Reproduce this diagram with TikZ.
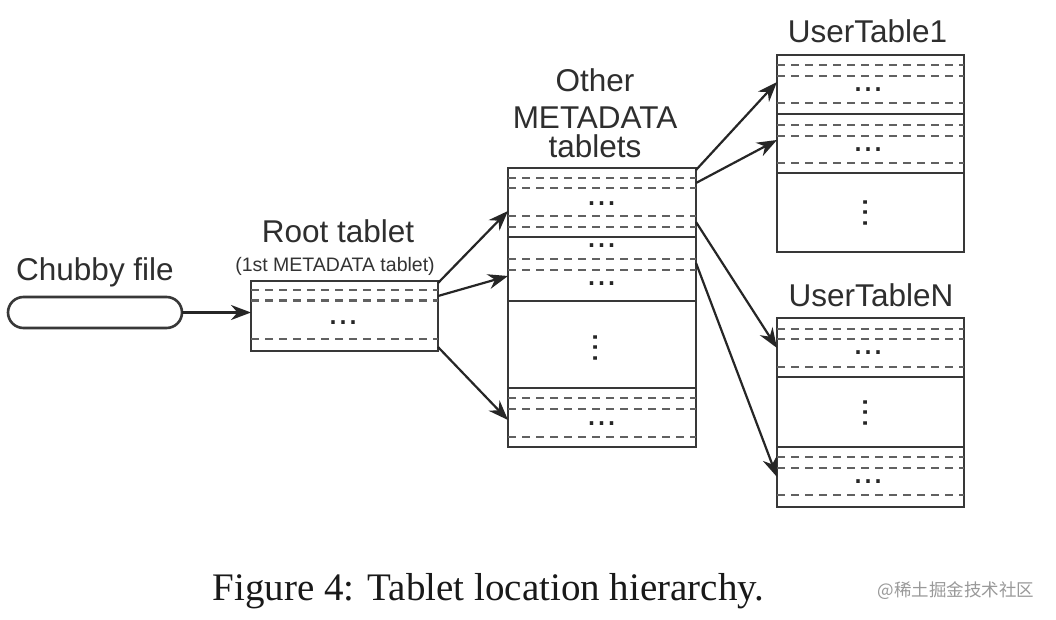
\documentclass[tikz,border=0pt]{standalone}
\usepackage{fontspec}
\setmainfont{Liberation Sans}
\newfontfamily\capserif{Liberation Serif}
\newfontfamily\cjk{Noto Sans CJK SC}
\usetikzlibrary{arrows.meta}
\newcommand\hrow[3]{\draw[#3] (#1.west |- 0,#2) -- (#1.east |- 0,#2);}
\begin{document}
\begin{tikzpicture}[x=1pt,y=-1pt,
  box/.style={draw=black!78, line width=2.6pt, inner sep=0pt, outer sep=0pt},
  dsh/.style={draw=black!62, line width=2.2pt, dash pattern=on 8pt off 6pt},
  sol/.style={draw=black!78, line width=2.6pt},
  arr/.style={draw=black!85, line width=2.2pt, -{Stealth[length=20pt,width=15pt]}},
  lbl/.style={font=\fontsize{31.5}{29}\selectfont, text=black!82, inner sep=0pt},
  sublbl/.style={font=\fontsize{19.5}{22}\selectfont, text=black!80, inner sep=0pt},
  dotsn/.style={font=\fontsize{36}{36}\selectfont, text=black!85, inner sep=0pt}]
\useasboundingbox (0,0) rectangle (1056,620);
\fill[white] (0,0) rectangle (1056,620);

% boxes
\node[box, rounded corners=15.5pt, minimum width=174pt, minimum height=31pt] (chubby) at (95,312.5) {};
\node[box, minimum width=187pt, minimum height=70pt] (root) at (344.5,316) {};
\node[box, minimum width=188pt, minimum height=279pt] (meta) at (602,307.5) {};
\node[box, minimum width=187pt, minimum height=197pt] (ut1) at (870.5,153.5) {};
\node[box, minimum width=187pt, minimum height=189pt] (utn) at (870.5,412.5) {};

% labels
\node[lbl, anchor=base] (chubbylbl) at (95,280) {Chubby file};
\node[lbl, anchor=base] (rootlbl) at (338,242) {Root tablet};
\node[sublbl, anchor=base] (rootsub) at (335,271) {(1st METADATA tablet)};
\node[lbl, anchor=north, align=center] (metalbl) at (595,68) {Other\\[8pt]METADATA\\tablets};
\node[lbl, anchor=base] (ut1lbl) at (867.5,43) {UserTable1};
\node[lbl, anchor=base] (utnlbl) at (871,306) {UserTableN};

% root rows
\hrow{root}{290}{dsh}
\hrow{root}{300.5}{dsh}
\hrow{root}{339}{dsh}
\node[dotsn] (rd) at (343,323) {...};

% meta rows
\hrow{meta}{178}{dsh}
\hrow{meta}{188}{dsh}
\node[dotsn] (md1) at (601.5,204) {...};
\hrow{meta}{216}{dsh}
\hrow{meta}{227}{dsh}
\hrow{meta}{237}{sol}
\node[dotsn] (md2) at (601.5,246) {...};
\hrow{meta}{259}{dsh}
\hrow{meta}{270}{dsh}
\node[dotsn] (md3) at (601.5,284) {...};
\hrow{meta}{301}{sol}
\node[dotsn, rotate=90] (mv) at (596,348) {...};
\hrow{meta}{388}{sol}
\hrow{meta}{398}{dsh}
\hrow{meta}{409}{dsh}
\node[dotsn] (md4) at (601.5,424) {...};
\hrow{meta}{437}{dsh}

% UserTable1 rows
\hrow{ut1}{65}{dsh}
\hrow{ut1}{76}{dsh}
\node[dotsn] (ud1) at (868,90) {...};
\hrow{ut1}{103}{dsh}
\hrow{ut1}{114}{sol}
\hrow{ut1}{125}{dsh}
\hrow{ut1}{136}{dsh}
\node[dotsn] (ud2) at (868,150) {...};
\hrow{ut1}{163}{dsh}
\hrow{ut1}{173}{sol}
\node[dotsn, rotate=90] (uv) at (866,213) {...};

% UserTableN rows
\hrow{utn}{329}{dsh}
\hrow{utn}{339}{dsh}
\node[dotsn] (nd1) at (868,353) {...};
\hrow{utn}{367}{dsh}
\hrow{utn}{377}{sol}
\node[dotsn, rotate=90] (nv) at (866,413) {...};
\hrow{utn}{447}{sol}
\hrow{utn}{457}{dsh}
\hrow{utn}{468}{dsh}
\node[dotsn] (nd2) at (868,482) {...};
\hrow{utn}{495}{dsh}

% arrow end points
\coordinate (r1) at (root.east |- 0,283);
\coordinate (r2) at (root.east |- 0,296);
\coordinate (r3) at (root.east |- 0,347);
\coordinate (m1) at (meta.west |- 0,211);
\coordinate (m2) at (meta.west |- 0,276);
\coordinate (m3) at (meta.west |- 0,420);
\coordinate (m4) at (meta.east |- 0,170);
\coordinate (m5) at (meta.east |- 0,183);
\coordinate (m6) at (meta.east |- 0,222);
\coordinate (m7) at (meta.east |- 0,263);
\coordinate (u1) at (ut1.west |- 0,82);
\coordinate (u2) at (ut1.west |- 0,140);
\coordinate (n1) at (utn.west |- 0,348);
\coordinate (n2) at (utn.west |- 0,477);

% arrows
\draw[arr] (chubby.east) -- (chubby.east -| root.west);
\draw[arr] (r1) -- (m1);
\draw[arr] (r2) -- (m2);
\draw[arr] (r3) -- (m3);
\draw[arr] (m4) -- (u1);
\draw[arr] (m5) -- (u2);
\draw[arr] (m6) -- (n1);
\draw[arr] (m7) -- (n2);

% caption and mark
\node[font=\capserif\fontsize{39}{44}\selectfont, text=black!90, anchor=base, inner sep=0pt] (cap) at (488.5,600) {Figure 4: Tablet location hierarchy.};
\node[font=\cjk\fontsize{17.5}{20}\selectfont, text=black!40, inner sep=0pt] (mark) at (956,591) {@稀土掘金技术社区};
\end{tikzpicture}
\end{document}
